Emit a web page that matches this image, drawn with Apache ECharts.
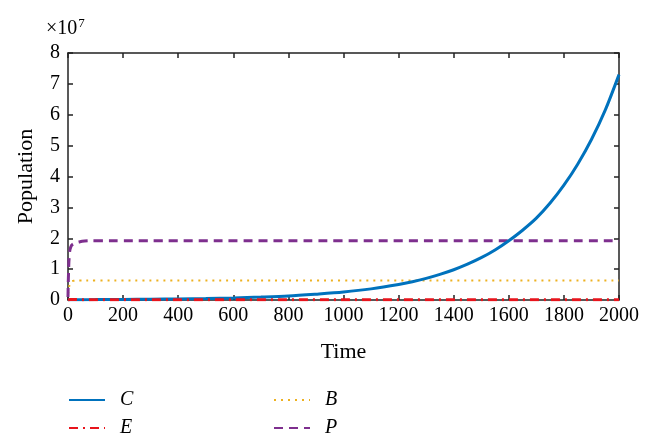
<!DOCTYPE html>
<html>
<head>
<meta charset="utf-8">
<script src="https://cdn.jsdelivr.net/npm/echarts@6/dist/echarts.min.js"></script>
<style>html,body{margin:0;padding:0;background:#fff}#c{width:653px;height:447px}</style>
</head>
<body>
<div id="c"></div>
<script>
// values in units of 10^7
var xTicks = [0, 200, 400, 600, 800, 1000, 1200, 1400, 1600, 1800, 2000];
var yTicks = [0, 1, 2, 3, 4, 5, 6, 7, 8];
var timeC = [0, 100, 200, 300, 400, 500, 600, 700, 800, 900, 1000, 1100, 1200, 1250, 1300, 1350, 1400, 1450, 1500, 1550, 1600, 1650, 1700, 1750, 1800, 1850, 1900, 1950, 2000];
var valC  = [0.01, 0.013, 0.018, 0.025, 0.035, 0.049, 0.068, 0.095, 0.13, 0.19, 0.26, 0.36, 0.50, 0.59, 0.70, 0.83, 0.98, 1.16, 1.37, 1.62, 1.92, 2.26, 2.65, 3.14, 3.72, 4.40, 5.2, 6.15, 7.3];
var timeE = [0, 10, 50, 500, 1000, 1500, 2000];
var valE  = [0, 0.02, 0.01, 0.005, 0.005, 0.005, 0.005];
var timeB = [0, 3, 6, 10, 20, 40, 100, 1000, 2000];
var valB  = [0.2, 0.35, 0.5, 0.58, 0.62, 0.63, 0.63, 0.63, 0.63];
var timeP = [0, 2, 5, 10, 20, 40, 60, 100, 1000, 2000];
var valP  = [0.1, 0.9, 1.45, 1.72, 1.82, 1.88, 1.91, 1.92, 1.92, 1.92];

function pairs(t, v) { return t.map(function (x, i) { return [x, v[i]]; }); }

var font = 'Liberation Serif';
var axisCol = '#222';
var tickStyle = { inside: true, length: 5, lineStyle: { color: axisCol, width: 1.5 } };
var lineSty = { onZero: false, lineStyle: { color: axisCol, width: 1.5 } };
var chart = echarts.init(document.getElementById('c'));
chart.setOption({
  animation: false,
  grid: { left: 68, right: 34, top: 53, bottom: 147 },
  xAxis: [{
    type: 'value', min: 0, max: 2000, interval: 200, position: 'bottom',
    name: 'Time', nameLocation: 'middle', nameGap: 41,
    nameTextStyle: { fontFamily: font, fontSize: 22, color: '#000' },
    axisLine: lineSty, axisTick: tickStyle,
    axisLabel: { fontFamily: font, fontSize: 20, color: '#000', margin: 6, formatter: function (v) { return String(v); } },
    splitLine: { show: false }
  }, {
    type: 'value', min: 0, max: 2000, interval: 200, position: 'top',
    axisLine: lineSty, axisTick: tickStyle,
    axisLabel: { show: false }, splitLine: { show: false }
  }],
  yAxis: [{
    type: 'value', min: 0, max: 8, interval: 1, position: 'left',
    name: 'Population', nameLocation: 'middle', nameGap: 31,
    nameTextStyle: { fontFamily: font, fontSize: 22, color: '#000' },
    axisLine: { show: true, onZero: false, lineStyle: { color: axisCol, width: 1.5 } },
    axisTick: { show: true, inside: true, length: 5, lineStyle: { color: axisCol, width: 1.5 } },
    axisLabel: { fontFamily: font, fontSize: 20, color: '#000', margin: 8 },
    splitLine: { show: false }
  }, {
    type: 'value', min: 0, max: 8, interval: 1, position: 'right',
    axisLine: { show: true, onZero: false, lineStyle: { color: axisCol, width: 1.5 } },
    axisTick: { show: true, inside: true, length: 5, lineStyle: { color: axisCol, width: 1.5 } },
    axisLabel: { show: false }, splitLine: { show: false }
  }],
  legend: [{
    data: ['C', 'E'], orient: 'vertical', left: 68, top: 390, itemGap: 8, padding: 0,
    itemWidth: 36, itemHeight: 14, itemStyle: { opacity: 0 },
    textStyle: { fontFamily: font, fontStyle: 'italic', fontSize: 20, color: '#000', padding: [0, 0, 0, 10] }
  }, {
    data: ['B', 'P'], orient: 'vertical', left: 273, top: 390, itemGap: 8, padding: 0,
    itemWidth: 36, itemHeight: 14, itemStyle: { opacity: 0 },
    textStyle: { fontFamily: font, fontStyle: 'italic', fontSize: 20, color: '#000', padding: [0, 0, 0, 10] }
  }],
  graphic: [{
    type: 'text', left: 46, top: 17,
    style: {
      text: '×10{s|7}', fontFamily: font, fontSize: 20, fill: '#000',
      rich: { s: { fontFamily: font, fontSize: 13, verticalAlign: 'top', padding: [0, 0, 10, 1] } }
    }
  }],
  series: [{
    name: 'C', type: 'line', showSymbol: false, symbol: 'none', data: pairs(timeC, valC), smooth: 0.3,
    lineStyle: { color: '#0072BD', width: 3 }, itemStyle: { color: '#0072BD' }, z: 3
  }, {
    name: 'E', type: 'line', showSymbol: false, symbol: 'none', data: pairs(timeE, valE),
    lineStyle: { color: '#e8141c', width: 3, type: [9, 5, 2, 5] }, itemStyle: { color: '#e8141c' }, z: 4
  }, {
    name: 'B', type: 'line', showSymbol: false, symbol: 'none', data: pairs(timeB, valB), smooth: true,
    lineStyle: { color: '#EDB120', width: 2, type: [2, 5] }, itemStyle: { color: '#EDB120' }, z: 2
  }, {
    name: 'P', type: 'line', showSymbol: false, symbol: 'none', data: pairs(timeP, valP), smooth: true,
    lineStyle: { color: '#7E2F8E', width: 3, type: [9, 6] }, itemStyle: { color: '#7E2F8E' }, z: 2
  }]
});
</script>
</body>
</html>
